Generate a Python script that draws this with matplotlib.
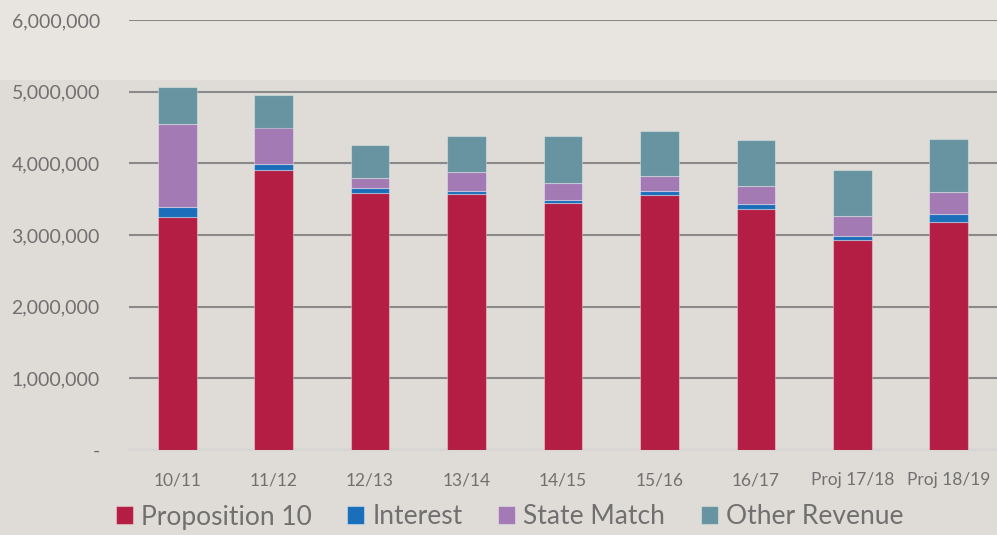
import matplotlib
matplotlib.use("Agg")
import matplotlib.pyplot as plt
from matplotlib.patches import Rectangle
from matplotlib.ticker import FuncFormatter

categories = ["10/11", "11/12", "12/13", "13/14", "14/15", "15/16", "16/17", "Proj 17/18", "Proj 18/19"]
proposition10 = [3254000, 3903000, 3583000, 3575000, 3440000, 3560000, 3365000, 2935000, 3185000]
interest      = [135000,   83000,   74000,   42000,   51000,   55000,   70000,   51000,  107000]
state_match   = [1165000, 514000,  144000,  264000,  233000,  209000,  250000,  274000,  310000]
other_revenue = [505000,  449000,  459000,  494000,  655000,  630000,  644000,  643000,  736000]

series = [
    ("Proposition 10", proposition10, "#b41e44"),
    ("Interest", interest, "#1b6fba"),
    ("State Match", state_match, "#a37ab4"),
    ("Other Revenue", other_revenue, "#6893a0"),
]

plt.rcParams['font.family'] = ['Lato', 'DejaVu Sans']
W, H = 997, 535
fig = plt.figure(figsize=(W/100, H/100), dpi=100, facecolor="#dfdcd7")
# lighter top band
fig.patches.append(Rectangle((0, (H-80)/H), 1, 80/H, transform=fig.transFigure,
                             facecolor="#e8e5e1", edgecolor="none", zorder=-10))

ax = fig.add_axes([129/W, (H-450)/H, (W-129)/W, 430/H])
ax.patch.set_alpha(0)

x = list(range(len(categories)))
bottom = [0]*len(categories)
for name, vals, col in series:
    ax.bar(x, vals, width=0.4, bottom=bottom, color=col, label=name,
           edgecolor=(1, 1, 1, 0.35), linewidth=0.8, zorder=3)
    bottom = [b + v for b, v in zip(bottom, vals)]

ax.set_xlim(-0.5, len(categories) - 0.5)
ax.set_ylim(0, 6000000)
ax.set_yticks(range(0, 6000001, 1000000))
ax.yaxis.set_major_formatter(FuncFormatter(lambda v, p: "-" if v == 0 else f"{int(v):,}"))
ax.grid(axis="y", color="#8a8a8a", linewidth=1.5, zorder=0)
ax.set_axisbelow(True)
for s in ["top", "right", "left"]:
    ax.spines[s].set_visible(False)
ax.spines["bottom"].set_color("#d6d6d6")
ax.spines["bottom"].set_linewidth(1.5)
ax.tick_params(axis="y", length=0, pad=21, labelsize=14, labelcolor="#707070")
ax.tick_params(axis="x", length=0, pad=16, labelsize=12.5, labelcolor="#707070")
ax.set_xticks(x)
ax.set_xticklabels(categories)

leg = fig.legend(loc="center", bbox_to_anchor=(0.511, (H-517)/H), ncol=4, frameon=False,
                 fontsize=19, labelcolor="#707070", handlelength=0.65, handleheight=0.65,
                 handletextpad=0.3, columnspacing=1.35, borderaxespad=0)

fig.savefig("out.png", dpi=100, facecolor=fig.get_facecolor())
